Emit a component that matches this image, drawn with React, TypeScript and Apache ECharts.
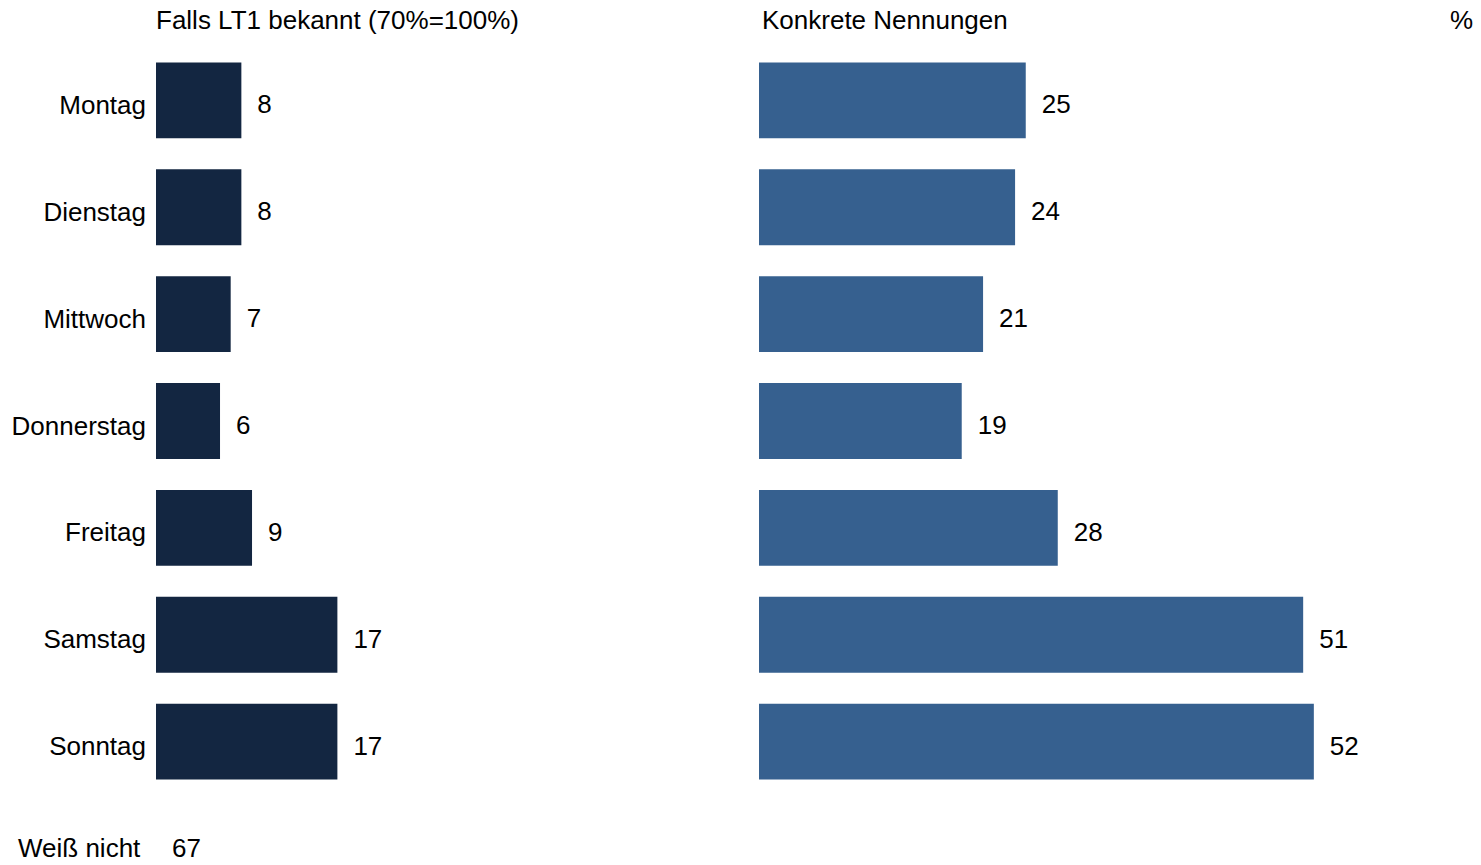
import React, { useEffect, useRef } from "react";
import * as echarts from "echarts";

const categories = ["Montag", "Dienstag", "Mittwoch", "Donnerstag", "Freitag", "Samstag", "Sonntag"];
const leftValues = [8, 8, 7, 6, 9, 17, 17];
const rightValues = [25, 24, 21, 19, 28, 51, 52];
const leftTitle = "Falls LT1 bekannt (70%=100%)";
const rightTitle = "Konkrete Nennungen";
const unitLabel = "%";
const dontKnowLabel = "Weiß nicht";
const dontKnowValue = 67;

const FONT = "Liberation Sans, Arial, sans-serif";
const FS = 26;
const PX_PER_UNIT = 10.67;

export default function App() {
  const ref = useRef<HTMLDivElement>(null);
  useEffect(() => {
    if (!ref.current) return;
    const chart = echarts.init(ref.current, undefined, { renderer: "svg" });
    const leftMax = 40;
    const rightMax = 65;
    const top = 47;
    const height = 748;
    const textStyle = { fontFamily: FONT, fontSize: FS, color: "#000" };
    chart.setOption({
      animation: false,
      textStyle: { fontFamily: FONT },
      grid: [
        { left: 156, top, height, width: leftMax * PX_PER_UNIT },
        { left: 759, top, height, width: rightMax * PX_PER_UNIT },
      ],
      xAxis: [
        { type: "value", gridIndex: 0, min: 0, max: leftMax, show: false },
        { type: "value", gridIndex: 1, min: 0, max: rightMax, show: false },
      ],
      yAxis: [
        {
          type: "category",
          gridIndex: 0,
          data: categories,
          inverse: true,
          axisLine: { show: false },
          axisTick: { show: false },
          axisLabel: {
            ...textStyle,
            margin: 10,
            formatter: "{a|{value}}",
            rich: { a: { ...textStyle, padding: [9, 0, 0, 0] } },
          },
        },
        {
          type: "category",
          gridIndex: 1,
          data: categories,
          inverse: true,
          axisLine: { show: false },
          axisTick: { show: false },
          axisLabel: { show: false },
        },
      ],
      series: [
        {
          type: "bar",
          xAxisIndex: 0,
          yAxisIndex: 0,
          data: leftValues,
          barCategoryGap: "29%",
          itemStyle: { color: "#132641" },
          label: { show: true, position: "right", distance: 16, offset: [0, 4], ...textStyle },
        },
        {
          type: "bar",
          xAxisIndex: 1,
          yAxisIndex: 1,
          data: rightValues,
          barCategoryGap: "29%",
          itemStyle: { color: "#36608F" },
          label: { show: true, position: "right", distance: 16, offset: [0, 4], ...textStyle },
        },
      ],
      graphic: [
        { type: "text", left: 156, top: 7, style: { text: leftTitle, font: `${FS}px ${FONT}`, fill: "#000" } },
        { type: "text", left: 762, top: 7, style: { text: rightTitle, font: `${FS}px ${FONT}`, fill: "#000" } },
        { type: "text", right: 8, top: 7, style: { text: unitLabel, font: `${FS}px ${FONT}`, fill: "#000" } },
        { type: "text", left: 18, top: 835, style: { text: dontKnowLabel, font: `${FS}px ${FONT}`, fill: "#000" } },
        { type: "text", left: 172, top: 835, style: { text: String(dontKnowValue), font: `${FS}px ${FONT}`, fill: "#000" } },
      ],
    });
    return () => chart.dispose();
  }, []);
  return (
    <div
      ref={ref}
      style={{ position: "absolute", left: 0, top: 0, width: 1481, height: 865, background: "#fff" }}
    />
  );
}
